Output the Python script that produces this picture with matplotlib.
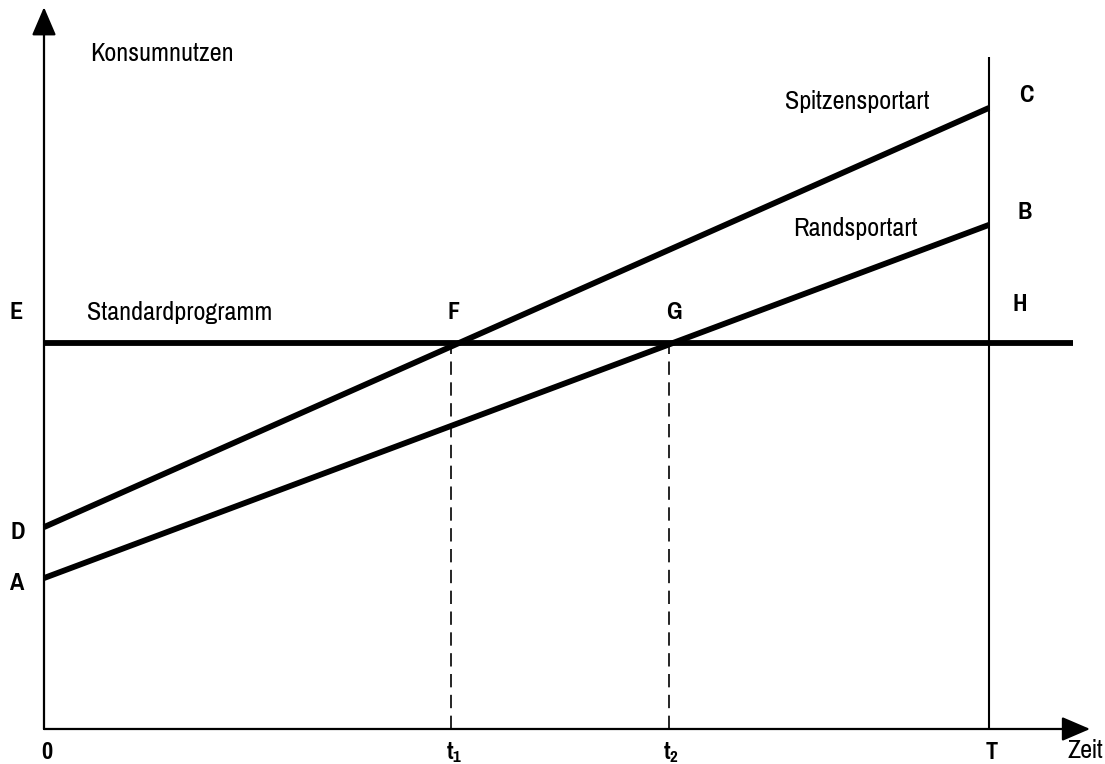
import matplotlib
matplotlib.use("Agg")
import matplotlib.pyplot as plt

plt.rcParams['font.family'] = ['Pragati Narrow', 'Archivo Narrow', 'Liberation Sans', 'DejaVu Sans']
plt.rcParams['mathtext.fontset'] = 'custom'
plt.rcParams['mathtext.rm'] = 'Archivo Narrow'
plt.rcParams['mathtext.it'] = 'Archivo Narrow'
plt.rcParams['mathtext.bf'] = 'Archivo Narrow:bold'
plt.rcParams['mathtext.default'] = 'regular'

# time points (T = 10)
t_points = [0.0, 4.31, 6.61, 10.0]
t_labels = ['0', 't$_1$', 't$_2$', 'T']

# utility levels
standard_level = 10.0            # E / F / G / H
spitzen = [5.23, 16.09]          # D -> C
rand = [3.91, 13.06]             # A -> B

x_end = 10.89     # end of Standardprogramm line
t_top = 17.41     # top of vertical line at T
x_axis_end = 11.07
y_axis_end = 18.7

fig = plt.figure(figsize=(11.05, 7.64), dpi=100)
ax = fig.add_axes([0, 0, 1, 1])
ax.set_xlim(-0.4656, 11.228)
ax.set_ylim(-0.907, 18.886)
ax.axis('off')

t0, t1, t2, T = t_points

# axes with arrows
arrow = dict(arrowstyle='-|>,head_length=1.75,head_width=0.75',
             color='black', lw=1.6, shrinkA=0, shrinkB=0)
ax.annotate('', xy=(0, y_axis_end), xytext=(0, 0), arrowprops=arrow)
ax.annotate('', xy=(x_axis_end, 0), xytext=(0, 0), arrowprops=arrow)

# vertical line at T
ax.plot([T, T], [0, t_top], color='black', lw=1.5, solid_capstyle='butt')

# main lines
ax.plot([0, x_end], [standard_level, standard_level], color='black', lw=4.2,
        solid_capstyle='butt')
ax.plot([0, T], spitzen, color='black', lw=4.2, solid_capstyle='butt')
ax.plot([0, T], rand, color='black', lw=4.2, solid_capstyle='butt')

# dashed drop lines
for tx in (t1, t2):
    ax.plot([tx, tx], [0, standard_level], color='black', lw=1.2,
            linestyle=(0, (8, 4.5)))

lab = dict(fontsize=20.5, color='black', va='center')
letter = dict(fontsize=19, color='black', va='center', ha='center',
              fontweight='semibold')

ax.text(0.49, 17.51, 'Konsumnutzen', ha='left', **lab)
ax.text(9.37, 16.25, 'Spitzensportart', ha='right', **lab)
ax.text(9.25, 12.97, 'Randsportart', ha='right', **lab)
ax.text(0.46, 10.8, 'Standardprogramm', ha='left', **lab)

ax.text(-0.3, 10.8, 'E', **letter)
ax.text(t1 + 0.03, 10.8, 'F', **letter)
ax.text(t2 + 0.06, 10.8, 'G', **letter)
ax.text(T + 0.33, 11.0, 'H', **letter)
ax.text(T + 0.4, 16.42, 'C', **letter)
ax.text(T + 0.38, 13.37, 'B', **letter)
ax.text(-0.28, spitzen[0] - 0.15, 'D', **letter)
ax.text(-0.28, rand[0] - 0.15, 'A', **letter)

for tx, tl in zip(t_points, t_labels):
    ax.text(tx + 0.03, -0.6, tl, **letter)
ax.text(11.205, -0.55, 'Zeit', ha='right', fontsize=20.5,
        color='black', va='center')

fig.savefig('out.png', dpi=100)
